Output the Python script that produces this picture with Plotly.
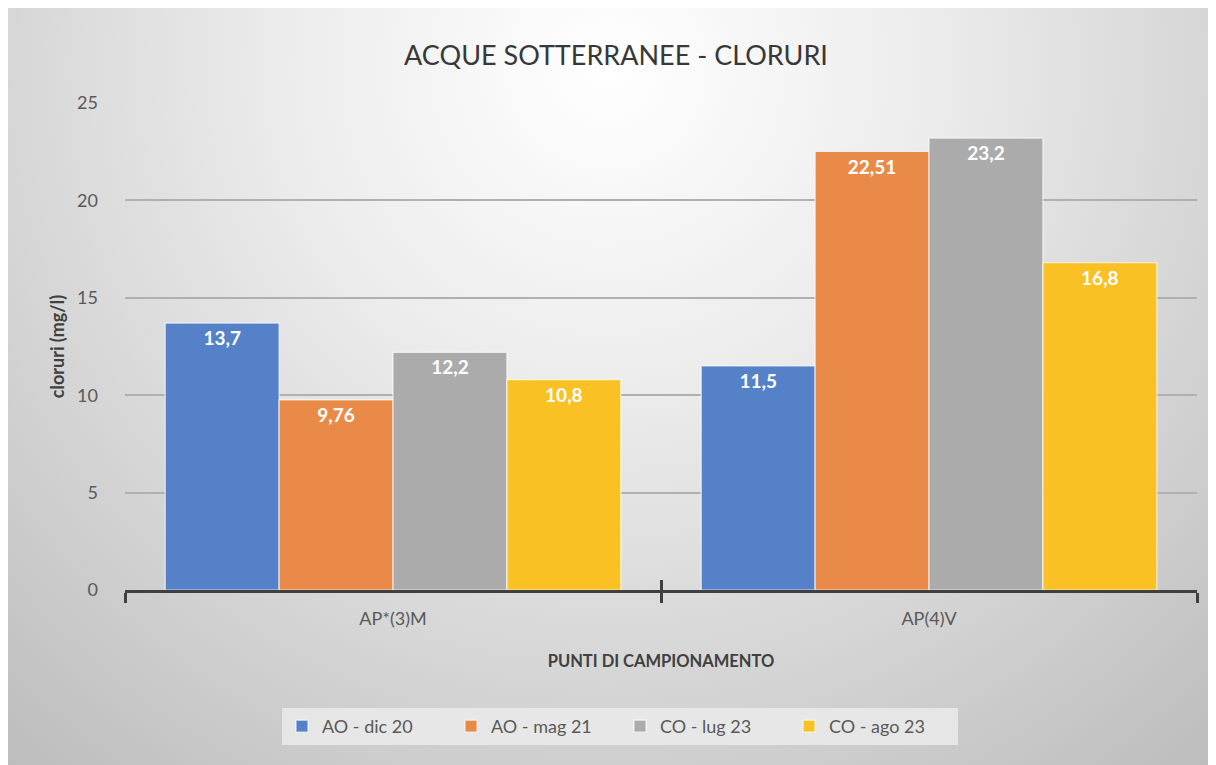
import base64
import plotly.graph_objects as go

# ---- data ----
categories = ["AP*(3)M", "AP(4)V"]
series_names = ["AO - dic 20", "AO - mag 21", "CO - lug 23", "CO - ago 23"]
ao_dic20 = [13.7, 11.5]
ao_mag21 = [9.76, 22.51]
co_lug23 = [12.2, 23.2]
co_ago23 = [10.8, 16.8]
y_ticks = [0, 5, 10, 15, 20, 25]

series_values = [ao_dic20, ao_mag21, co_lug23, co_ago23]
colors = ["#5581C9", "#EA8A48", "#ABABAB", "#F9C124"]

FONT = "Lato"

fig = go.Figure()
for name, vals, col in zip(series_names, series_values, colors):
    fig.add_trace(go.Bar(
        name=name, x=categories, y=vals,
        marker=dict(color=col, line=dict(color="rgba(255,255,255,0.7)", width=1.2)),
        text=[str(v).replace(".", ",") for v in vals],
        textposition="inside", insidetextanchor="end",
        textfont=dict(family=FONT, size=19, color="white", weight="bold"),
        textangle=0,
    ))

# invisible helper trace for the overlay axis (tick marks above the axis line)
fig.add_trace(go.Bar(x=categories, y=[0, 0], xaxis="x2", yaxis="y",
                     marker=dict(color="rgba(0,0,0,0)", line=dict(width=0)),
                     showlegend=False, hoverinfo="skip"))

# page offset of the figure inside the html body (default 8px body margin)
OFF = 8
W, H = 1216 - OFF, 765 - OFF
L, R, T, B = 125 - OFF, 19, 103 - OFF, 175
pw, ph = W - L - R, H - T - B

# background gradient as an SVG image
svg = """<svg xmlns='http://www.w3.org/2000/svg' width='1210' height='760'>
<defs><radialGradient id='g' gradientUnits='userSpaceOnUse' cx='600' cy='60' r='930'>
<stop offset='0' stop-color='#ffffff'/>
<stop offset='0.33' stop-color='#ededed'/>
<stop offset='0.68' stop-color='#d4d4d4'/>
<stop offset='1' stop-color='#bcbcbc'/>
</radialGradient></defs>
<rect width='1210' height='760' fill='url(#g)'/></svg>"""
src = "data:image/svg+xml;base64," + base64.b64encode(svg.encode()).decode()

fig.update_layout(
    width=W, height=H,
    margin=dict(l=L, r=R, t=T, b=B, pad=0),
    paper_bgcolor="white", plot_bgcolor="rgba(0,0,0,0)",
    separators=",.",
    barmode="group", bargap=0.15, bargroupgap=0,
    title=dict(text="ACQUE SOTTERRANEE - CLORURI", x=(616 - OFF) / W, xanchor="center",
               y=1 - (56 - OFF) / H, yanchor="middle",
               font=dict(family=FONT, size=27, color="#383838")),
    font=dict(family=FONT, color="#595959"),
    images=[dict(source=src, xref="paper", yref="paper",
                 x=-L / pw, y=(H - B) / ph,
                 sizex=W / pw, sizey=H / ph,
                 xanchor="left", yanchor="top", sizing="stretch", layer="below")],
    xaxis=dict(showline=True, linecolor="#404040", linewidth=3,
               ticks="outside", tickson="boundaries", ticklen=10, tickwidth=3,
               tickcolor="#404040", showgrid=False,
               tickfont=dict(family=FONT, size=18, color="#595959"),
               ticklabelstandoff=10,
               title=dict(text="PUNTI DI CAMPIONAMENTO", standoff=28,
                          font=dict(family=FONT, size=16.5, color="#404040", weight="bold"))),
    xaxis2=dict(overlaying="x", anchor="y", side="bottom", type="category",
                categoryarray=categories, categoryorder="array", range=[-0.5, 1.5],
                showline=False, ticks="inside", tickson="boundaries", ticklen=10,
                tickwidth=3, tickcolor="#404040", showticklabels=False,
                showgrid=False, zeroline=False),
    yaxis=dict(range=[0, 25], tickvals=y_ticks, showline=False, zeroline=False,
               showgrid=True, gridcolor="#b0b0b0", gridwidth=1.5, ticks="",
               tickfont=dict(family=FONT, size=18, color="#595959"),
               ticklabelstandoff=26,
               title=dict(text="cloruri (mg/l)", standoff=7,
                          font=dict(family=FONT, size=18, color="#404040", weight="bold"))),
    legend=dict(orientation="h", xref="container", yref="container",
                x=(620 - OFF) / W, xanchor="center", y=1 - (708 - OFF) / H, yanchor="top",
                bgcolor="rgba(236,236,236,0.8)", borderwidth=0,
                font=dict(family=FONT, size=18, color="#595959"),
                itemwidth=30, tracegroupgap=0, entrywidth=124),
)

fig.write_html("out.html")
